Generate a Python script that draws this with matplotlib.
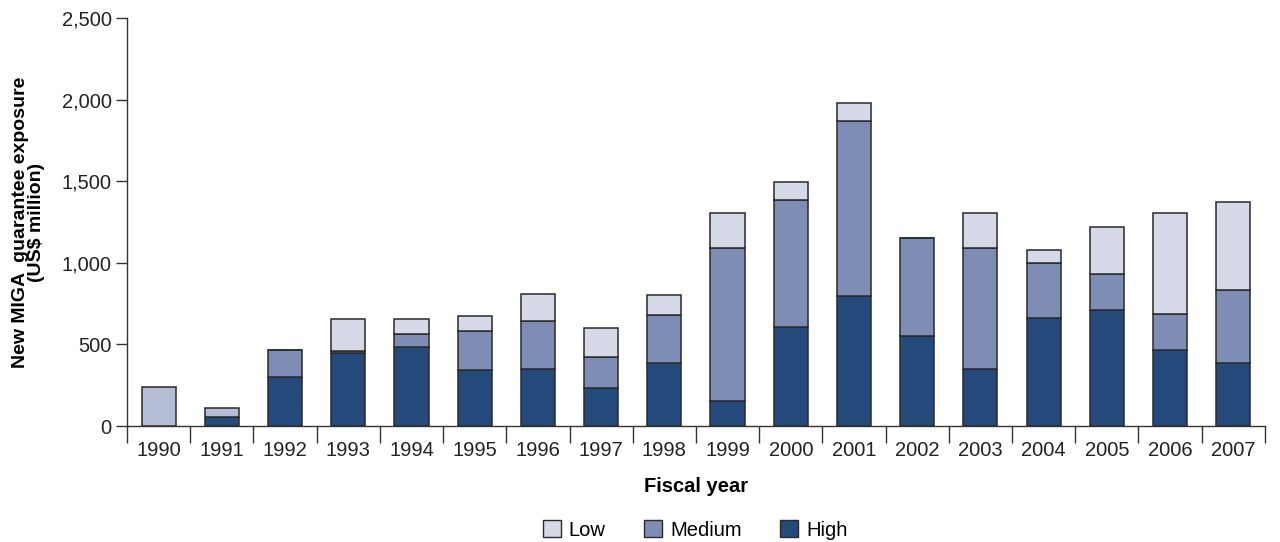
import matplotlib
matplotlib.use("Agg")
import matplotlib.pyplot as plt
import numpy as np
from matplotlib.patches import Patch

plt.rcParams['font.family'] = ['Liberation Sans', 'DejaVu Sans']

years = ['1990', '1991', '1992', '1993', '1994', '1995', '1996', '1997', '1998',
         '1999', '2000', '2001', '2002', '2003', '2004', '2005', '2006', '2007']
high = [0, 55, 300, 450, 484, 343, 349, 233, 384, 153, 608, 795, 551, 349, 660, 711, 466, 388]
medium = [0, 0, 165, 12, 80, 239, 294, 190, 294, 938, 775, 1074, 603, 740, 341, 218, 220, 444]
low = [239, 55, 2, 196, 92, 92, 166, 177, 127, 212, 112, 110, 0, 218, 77, 292, 619, 539]
series_names = ['Low', 'Medium', 'High']
yticks = [0, 500, 1000, 1500, 2000, 2500]

c_high = '#244a7c'
c_med = '#7e8db5'
c_low = '#d5d9e8'
c_low_early = '#b4bcd6'
edge = '#2a2a2a'

fig = plt.figure(figsize=(12.8, 5.42), dpi=100)
ax = fig.add_axes([0.0992, 0.214, 0.889, 0.753])

x = np.arange(len(years))
w = 0.54
high_a = np.array(high)
med_a = np.array(medium)
low_a = np.array(low)
low_colors = [c_low_early if y in ('1990', '1991') else c_low for y in years]

ax.bar(x, high_a, w, color=c_high, edgecolor=edge, linewidth=1.1, zorder=3)
ax.bar(x, med_a, w, bottom=high_a, color=c_med, edgecolor=edge, linewidth=1.1, zorder=3)
ax.bar(x, low_a, w, bottom=high_a + med_a, color=low_colors, edgecolor=edge, linewidth=1.1, zorder=3)

ax.set_xlim(-0.5, 17.5)
ax.set_ylim(0, 2500)
ax.set_yticks(yticks)
ax.set_yticklabels([f'{v:,}' for v in yticks], fontsize=14.5, color='#222222')
ax.set_xticks(np.arange(-0.5, 18, 1.0))
ax.set_xticklabels([])
ax.set_xticks(x, minor=True)
ax.set_xticklabels(years, minor=True, fontsize=14.5, color='#222222')
ax.tick_params(axis='x', which='major', length=12, width=1, color='#333333', direction='out')
ax.tick_params(axis='x', which='minor', length=0, pad=11)
ax.tick_params(axis='y', length=8, width=1, color='#333333', pad=3)

for s in ['top', 'right']:
    ax.spines[s].set_visible(False)
for s in ['left', 'bottom']:
    ax.spines[s].set_color('#333333')
    ax.spines[s].set_linewidth(1.0)

ax.set_xlabel('Fiscal year', fontsize=14.5, fontweight='bold', labelpad=12)
ax.set_ylabel('New MIGA  guarantee exposure\n(US$ million)', fontsize=14,
              fontweight='bold', labelpad=12, linespacing=0.95)

handles = [Patch(facecolor=c_low, edgecolor=edge, linewidth=1.0),
           Patch(facecolor=c_med, edgecolor=edge, linewidth=1.0),
           Patch(facecolor=c_high, edgecolor=edge, linewidth=1.0)]
fig.legend(handles, series_names, loc='center', bbox_to_anchor=(0.543, 0.022), ncol=3,
           frameon=False, fontsize=14.5, handlelength=0.9, handleheight=0.9,
           handletextpad=0.4, columnspacing=1.9)

fig.savefig('out.png', dpi=100)
